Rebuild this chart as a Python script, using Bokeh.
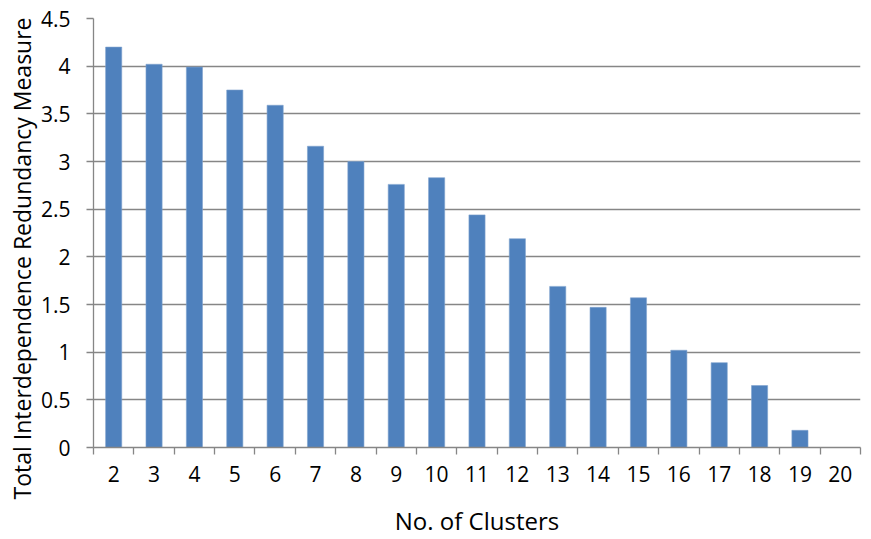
from bokeh.plotting import figure
from bokeh.models import FixedTicker, Range1d, Title
from bokeh.embed import file_html
from bokeh.resources import INLINE

clusters = [2, 3, 4, 5, 6, 7, 8, 9, 10, 11, 12, 13, 14, 15, 16, 17, 18, 19, 20]
redundancy = [4.2, 4.02, 3.99, 3.75, 3.59, 3.16, 3.0, 2.76, 2.83, 2.44, 2.19, 1.69,
              1.47, 1.57, 1.02, 0.89, 0.65, 0.18, 0.0]
y_ticks = [0, 0.5, 1, 1.5, 2, 2.5, 3, 3.5, 4, 4.5]
y_tick_labels = ["0", "0.5", "1", "1.5", "2", "2.5", "3", "3.5", "4", "4.5"]
x_label = "No. of Clusters"
y_label = "Total Interdependence Redundancy Measure"

FONT = "Open Sans"
GRID = "#868686"

p = figure(width=863, height=531, frame_width=767, frame_height=429,
           output_backend="svg", toolbar_location=None,
           x_range=Range1d(1.5, 20.5), y_range=Range1d(0, 4.5),
           min_border_left=93, min_border_top=18, min_border_right=3,
           min_border_bottom=84)
p.outline_line_color = None
p.background_fill_color = "white"

p.vbar(x=clusters, top=redundancy, width=0.4, fill_color="#4F81BD",
       line_color="#7FA3CF", line_width=0.6)

# x axis
p.xaxis.ticker = FixedTicker(ticks=clusters,
                             minor_ticks=[c - 0.5 for c in clusters] + [clusters[-1] + 0.5])
p.xaxis.major_tick_line_color = None
p.xaxis.minor_tick_out = 7
p.xaxis.minor_tick_in = 0
p.xaxis.minor_tick_line_color = GRID
p.xaxis.minor_tick_line_width = 1.3
p.xaxis.axis_line_color = GRID
p.xaxis.axis_line_width = 1.3
p.xaxis.axis_label = x_label
p.xaxis.major_label_standoff = 11
p.xaxis.axis_label_standoff = 19

# y axis
p.yaxis.ticker = FixedTicker(ticks=y_ticks, minor_ticks=[])
p.yaxis.major_label_overrides = {t: l for t, l in zip(y_ticks, y_tick_labels)}
p.yaxis.major_tick_out = 7
p.yaxis.major_tick_in = 0
p.yaxis.major_tick_line_color = GRID
p.yaxis.major_tick_line_width = 1.3
p.yaxis.axis_line_color = GRID
p.yaxis.axis_line_width = 1.3
p.yaxis.major_label_standoff = 16

for ax in (p.xaxis, p.yaxis):
    ax.major_label_text_font = FONT
    ax.major_label_text_font_size = "21px"
    ax.major_label_text_color = "black"
    ax.axis_label_text_font = FONT
    ax.axis_label_text_font_size = "24px"
    ax.axis_label_text_font_style = "normal"
    ax.axis_label_text_color = "black"

# y-axis title, placed like the original (starts below the plot bottom)
ytitle = Title(text=y_label, align="left", offset=-52, text_font=FONT,
               text_font_size="23px", text_font_style="normal",
               text_color="black", standoff=0)
p.add_layout(ytitle, "left")

p.xgrid.grid_line_color = None
p.ygrid.grid_line_color = GRID
p.ygrid.grid_line_width = 1.3

open("out.html", "w").write(file_html(p, INLINE))
